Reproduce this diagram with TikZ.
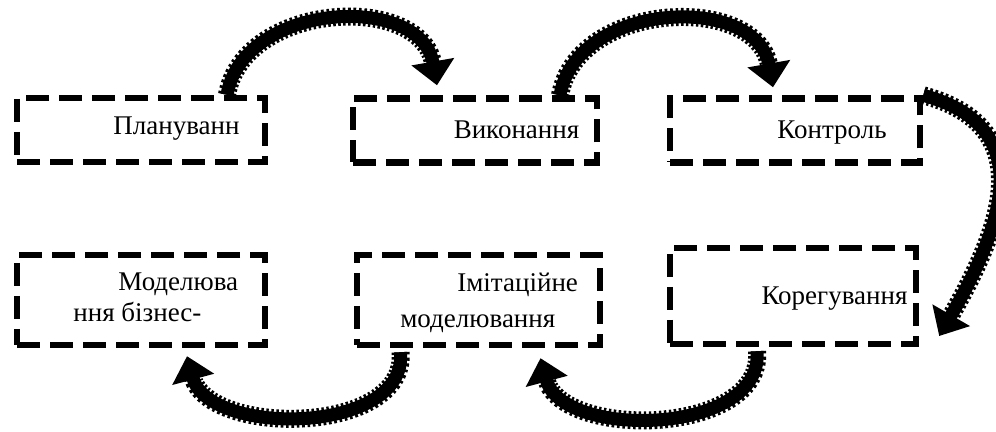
\documentclass[tikz,border=0pt]{standalone}
\usepackage{fontspec}
\setmainfont{Liberation Serif}
\usetikzlibrary{arrows.meta,calc}

\tikzset{
  stage/.style={draw, line width=3.2pt, dash pattern=on 11.5pt off 5pt, inner sep=0pt},
  stagetext/.style={font=\fontsize{13.5}{15.5}\selectfont, inner sep=0pt, align=left},
  cyclearrow/.style={line width=6.5pt, -{Triangle[width=21pt,length=12pt]},
    preaction={draw, -, line width=9pt, dash pattern=on 1.3pt off 1.3pt, shorten >=11pt}}
}

\begin{document}
\begin{tikzpicture}[x=0.5pt,y=-0.5pt]
\useasboundingbox (0,0) rectangle (996,432);

% upper row
\node[stage, minimum width=124pt, minimum height=32pt] (plan) at (141,130) {};
\node[stage, minimum width=122pt, minimum height=32pt] (vyk) at (475,130.5) {};
\node[stage, minimum width=125pt, minimum height=32pt] (kontr) at (795,130.5) {};
% lower row
\node[stage, minimum width=124pt, minimum height=45pt] (model) at (141,300) {};
\node[stage, minimum width=121.5pt, minimum height=45pt] (imit) at (478.5,300) {};
\node[stage, minimum width=123pt, minimum height=48pt] (koreg) at (793,296) {};

\node[stagetext] (plantext) at (176.5,129) {Плануванн};
\node[stagetext] (vyktext) at (516.5,130) {Виконання};
\node[stagetext] (kontrtext) at (832,133) {Контроль};
\node[stagetext] (koregtext) at (834.5,299) {Корегування};
\node[stagetext, anchor=west, font=\fontsize{13.5}{15.5}\selectfont] (modeltext) at (73,297.5)
  {\hspace*{22.5pt}Моделюва\\ння бізнес-};
\node[stagetext, anchor=west, font=\fontsize{13.5}{18}\selectfont] (imittext) at (400,302.5)
  {\hspace*{28.5pt}Імітаційне\\моделювання};

% arrows between stages
\draw[cyclearrow] ([xshift=43pt]plan.north) to[out=80,in=100,looseness=1.15] ([xshift=-19pt,yshift=5pt]vyk.north);
\draw[cyclearrow] ([xshift=42.5pt]vyk.north) to[out=80,in=100,looseness=1.15] ([xshift=-11pt,yshift=4pt]kontr.north);
\draw[cyclearrow] (kontr.north east) to[out=-15,in=60,looseness=1.3] ([xshift=10pt,yshift=-20pt]koreg.east);
\draw[cyclearrow] ([xshift=-18pt,yshift=-2pt]koreg.south) to[out=-85,in=-75,looseness=1.0] ([xshift=31pt,yshift=-5pt]imit.south);
\draw[cyclearrow] ([xshift=-39pt,yshift=-2pt]imit.south) to[out=-85,in=-75,looseness=1.0] ([xshift=23pt,yshift=-4pt]model.south);
\end{tikzpicture}
\end{document}
